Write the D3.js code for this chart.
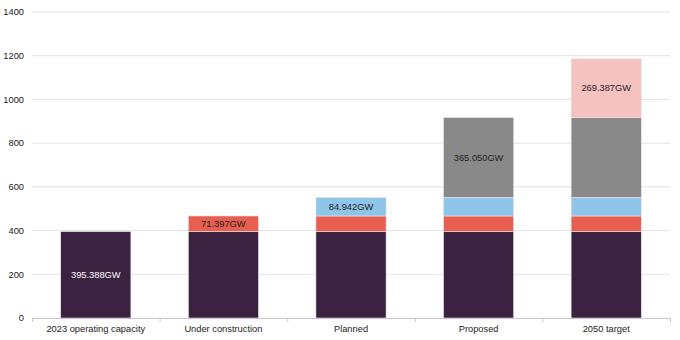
<!DOCTYPE html>
<html><head><meta charset="utf-8">
<script src="https://cdn.jsdelivr.net/npm/d3@7/dist/d3.min.js"></script>
<style>body{margin:0;background:#fff;}svg{display:block;font-family:"Liberation Sans",Arial,sans-serif;}</style>
</head><body>
<script>
const categories = ["2023 operating capacity","Under construction","Planned","Proposed","2050 target"];
const segmentValues = [395.388, 71.397, 84.942, 365.050, 269.387];
const segmentLabels = ["395.388GW","71.397GW","84.942GW","365.050GW","269.387GW"];
const segmentColors = ["#3b2241","#e85e4f","#8ec5e8","#898989","#f6c2bf"];
const labelColors = ["#ffffff","#222222","#222222","#222222","#222222"];
const yTicks = [0,200,400,600,800,1000,1200,1400];

const W = 680, H = 340;
const m = {left:32, right:10, top:12, bottom:22};
const svg = d3.select("body").append("svg").attr("width",W).attr("height",H);

const x = d3.scaleBand().domain(categories).range([m.left, W-m.right]).paddingInner(0).paddingOuter(0);
const y = d3.scaleLinear().domain([0,1400]).range([H-m.bottom, m.top]);
const barW = x.bandwidth()*0.55;

// gridlines
svg.append("g").selectAll("line").data(yTicks.filter(d=>d>0)).join("line")
  .attr("x1", m.left).attr("x2", W-m.right)
  .attr("y1", d=>y(d)).attr("y2", d=>y(d))
  .attr("stroke","#e3e3e3").attr("stroke-width",1);

// y labels
svg.append("g").selectAll("text").data(yTicks).join("text")
  .attr("x", 24).attr("y", d=>y(d)).attr("dy","0.35em")
  .attr("text-anchor","end").attr("font-size",9.3).attr("fill","#222")
  .text(d=>d);

// segments
const segs = [];
categories.forEach((c,i)=>{
  let base = 0;
  for (let k=0;k<=i;k++){
    segs.push({cat:c, k, y0:base, y1:base+segmentValues[k], top:k===i});
    base += segmentValues[k];
  }
});
const g = svg.append("g");
g.selectAll("rect").data(segs).join("rect")
  .attr("x", d=>x(d.cat)+(x.bandwidth()-barW)/2)
  .attr("width", barW)
  .attr("y", d=>y(d.y1))
  .attr("height", d=>y(d.y0)-y(d.y1))
  .attr("fill", d=>segmentColors[d.k])
  .attr("stroke","#e8e8ee").attr("stroke-width",0.6);

g.selectAll("text").data(segs.filter(d=>d.top)).join("text")
  .attr("x", d=>x(d.cat)+x.bandwidth()/2)
  .attr("y", d=>(y(d.y0)+y(d.y1))/2).attr("dy","0.35em")
  .attr("text-anchor","middle").attr("font-size",9.3)
  .attr("fill", d=>labelColors[d.k])
  .text(d=>segmentLabels[d.k]);

// x axis
const xa = svg.append("g");
xa.append("line").attr("x1",m.left).attr("x2",W-m.right)
  .attr("y1",y(0)+0.5).attr("y2",y(0)+0.5).attr("stroke","#c8c8c8");
const bounds = categories.map(c=>x(c)).concat([x(categories[categories.length-1])+x.bandwidth()]);
xa.selectAll("line.t").data(bounds).join("line").attr("class","t")
  .attr("x1",d=>d+0.5).attr("x2",d=>d+0.5)
  .attr("y1",y(0)).attr("y2",y(0)+4).attr("stroke","#c8c8c8");
xa.selectAll("text").data(categories).join("text")
  .attr("x", d=>x(d)+x.bandwidth()/2).attr("y", 332)
  .attr("text-anchor","middle").attr("font-size",9.3).attr("fill","#222")
  .text(d=>d);
</script>
</body></html>
